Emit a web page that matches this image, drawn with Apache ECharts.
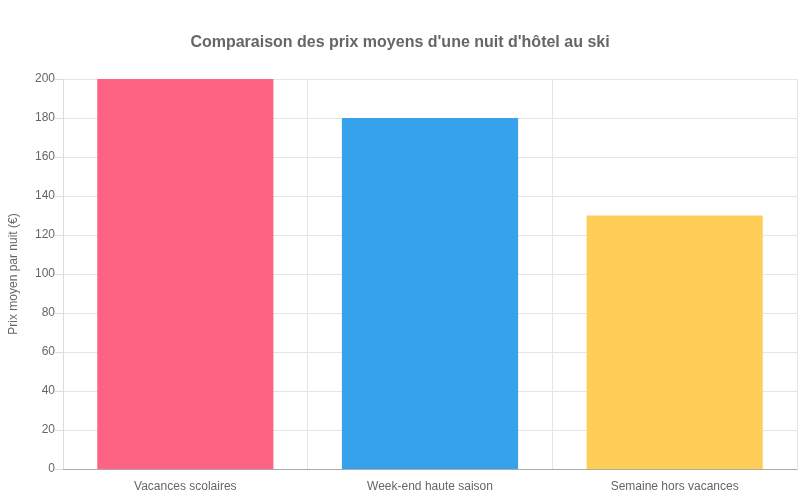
<!DOCTYPE html>
<html>
<head>
<meta charset="utf-8">
<script src="https://cdn.jsdelivr.net/npm/echarts@6/dist/echarts.min.js"></script>
<style>html,body{margin:0;padding:0;background:#fff}#chart{width:800px;height:500px}</style>
</head>
<body>
<div id="chart"></div>
<script>
var categories = ['Vacances scolaires', 'Week-end haute saison', 'Semaine hors vacances'];
var prices = [200, 180, 130];
var colors = ['#ff6384', '#36a2eb', '#ffce56'];

var chart = echarts.init(document.getElementById('chart'));
chart.setOption({
    textStyle: { fontFamily: 'Liberation Sans, Arial, sans-serif' },
    title: {
        text: "Comparaison des prix moyens d'une nuit d'hôtel au ski",
        left: 'center', top: 30,
        textStyle: { color: '#666', fontSize: 16, fontWeight: 'bold' }
    },
    grid: { left: 59, right: 3, top: 79, bottom: 31 },
    xAxis: {
        type: 'category',
        data: categories,
        axisLine: { lineStyle: { color: '#aaa' } },
        axisTick: { length: 9, lineStyle: { color: '#ddd' } },
        splitLine: { show: true, lineStyle: { color: '#e5e5e5' } },
        axisLabel: { color: '#666', fontSize: 12, margin: 12 }
    },
    yAxis: {
        type: 'value',
        min: 0, max: 200, interval: 20,
        name: 'Prix moyen par nuit (€)',
        nameLocation: 'middle', nameGap: 43,
        nameTextStyle: { color: '#666', fontSize: 12 },
        axisLine: { show: true, lineStyle: { color: '#ddd' } },
        axisTick: { show: true, length: 8, lineStyle: { color: '#ddd' } },
        splitLine: { lineStyle: { color: '#e5e5e5' } },
        axisLabel: { color: '#666', fontSize: 12, margin: 8 }
    },
    series: [{
        type: 'bar',
        barCategoryGap: '28%',
        data: prices.map(function (v, i) {
            return { value: v, itemStyle: { color: colors[i] } };
        })
    }]
});
</script>
</body>
</html>
